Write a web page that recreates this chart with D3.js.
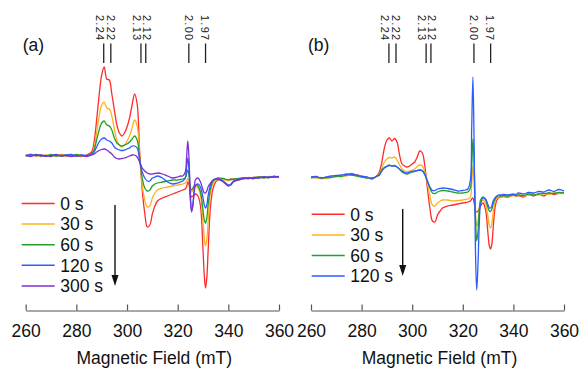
<!DOCTYPE html>
<html>
<head>
<meta charset="utf-8">
<script src="https://cdn.jsdelivr.net/npm/d3@7"></script>
<style>
  html, body { margin: 0; padding: 0; background: #fff; }
  svg { display: block; font-family: "Liberation Sans", Arial, Helvetica, sans-serif; }
</style>
</head>
<body>
<svg id="chart" width="581" height="368"></svg>
<script>
// magnetic field grid (mT), shared by every spectrum
const field = [
  260, 262, 264, 266, 268, 270, 272, 274, 276, 278, 280, 282, 284, 286,
  287, 288, 289, 290, 291, 292, 293, 294, 295, 296, 297, 298, 299, 300, 301, 302, 303, 304, 305, 306, 307, 308, 309, 310, 311, 312,
  314, 316, 318, 320, 321, 322, 323,
  323.5, 324, 324.5, 325, 325.5, 326, 326.5, 327,
  328, 329, 330, 330.5, 331, 331.5, 332,
  333, 334, 335, 336, 338, 340, 341, 342,
  344, 346, 348, 350, 352, 354, 356, 358, 360
];

const xTicks = [260, 280, 300, 320, 340, 360];
const gLabels = ['2.24', '2.22', '2.13', '2.12', '2.00', '1.97'];
const gFields = [290.8, 293.6, 305.5, 307.4, 324.4, 331.0];

const timesA = ['0 s', '30 s', '60 s', '120 s', '300 s'];
const timesB = ['0 s', '30 s', '60 s', '120 s'];
const colors = ['#ff2b2b', '#ffb21e', '#22a02b', '#2c5cff', '#7b30d2'];

// panel (a) intensities, a.u.
const redA = [
  4.5, 5.5, 4, 5, 3.5, 5, 4, 5.5, 4, 5, 4.5, 3.5, 5, 8,
  18, 40, 65, 85, 93, 81, 80, 66, 50, 35, 27, 24, 27, 33, 42, 55, 66, 56, 8, -30, -53, -67, -65, -54, -46, -41,
  -38, -36, -34, -32, -31, -30, -29,
  -27, -22, -25, -34, -37, -36, -35, -34,
  -36, -46, -90, -115, -128, -118, -92,
  -45, -28, -22, -20, -19, -20, -19, -19.5,
  -20, -18.5, -18, -18.5, -17.5, -17, -17.5, -16.5, -17
];
const orangeA = [
  4, 5, 4.5, 3.5, 5, 4, 4.5, 5, 3.5, 4.5, 5, 4, 4.5, 6,
  12, 27, 44, 55, 58, 52, 51, 44, 31, 20, 15, 13, 15, 19, 24, 32, 40, 34, 4, -25, -40, -47, -46, -38, -33, -30,
  -28, -27, -26, -25, -24.5, -24, -23,
  -21, -19, -21, -30, -32, -30, -28, -27,
  -28, -35, -62, -78, -86, -80, -62,
  -32, -23, -20, -19, -19.5, -20.5, -20, -19,
  -19.5, -19, -17.5, -18, -17, -17.5, -16.5, -17, -16.5
];
const greenA = [
  5, 4, 5.5, 4.5, 4, 5.5, 4, 4.5, 5, 4, 5.5, 4.5, 4, 6,
  10, 20, 30, 37, 39, 35, 34, 30, 22, 17, 15, 14, 15, 16, 18, 21, 24, 20, 2, -18, -28, -31, -30, -26, -24, -23,
  -22, -21, -20, -20, -19.5, -19, -18,
  -14, -10, -16, -28, -30, -28, -26, -25,
  -26, -32, -50, -60, -63, -58, -45,
  -28, -21, -19, -18, -18.5, -20, -19.5, -19,
  -18.5, -18, -18.5, -17.5, -17, -18, -17, -16.5, -17
];
const blueA = [
  4, 5.5, 4.5, 5, 4, 4.5, 5.5, 4, 5, 5.5, 4, 5, 4.5, 6,
  8, 13, 18, 21, 22, 20, 19, 17, 13, 11, 10, 9.5, 10, 11, 12, 14, 14, 12, 0, -12, -18, -21, -21, -18, -17, -16,
  -18, -22, -24, -23, -22, -21, -18,
  -8, 2, -10, -40, -51, -45, -33, -26,
  -24, -27, -38, -45, -48, -45, -36,
  -25, -20, -19, -19, -21, -25, -24, -21,
  -19, -18, -18.5, -17.5, -18, -17, -17.5, -16.5, -17
];
const purpleA = [
  4.5, 3.5, 5, 4, 4.5, 3.5, 5, 4, 4.5, 3.5, 4, 4.5, 3.5, 5,
  6, 8, 9.5, 10.5, 11, 10, 8, 6, 3, 1.5, 1, 1.5, 2, 3, 4, 5, 5, 3, -2, -8, -11, -13, -14, -14, -13.5, -13,
  -14, -16, -18, -17, -16, -16, -12,
  2, 19, 0, -35, -52, -45, -30, -20,
  -18, -22, -30, -33, -33, -31, -27,
  -23, -20, -19, -19, -22, -26, -25, -22,
  -20, -18.5, -18, -18.5, -17.5, -17, -17.5, -17, -16.5
];

// panel (b) intensities, a.u.
const redB = [
  -17.5, -17, -18.5, -18, -17, -16.5, -16, -15, -13.5, -15, -16, -17, -19, -16,
  -12, -2, 12, 20, 22, 19, 21.5, 18, 5, -4, -6, -7, -6, -4, -2, 3, 9, 7, -6, -28, -48, -61, -62, -55, -51, -48,
  -46, -45, -44, -43, -42.5, -42, -41,
  -39, -38, -43, -51, -52, -51, -49, -46,
  -43, -50, -75, -86, -89, -84, -68,
  -44, -38, -37, -36.5, -37, -35, -36, -35.5,
  -37, -34.5, -36, -34, -36, -33, -34.5, -33, -32.5
];
const orangeB = [
  -17, -18, -17.5, -18.5, -16.5, -17, -15.5, -16, -14.5, -15.5, -16.5, -17.5, -18.5, -16.5,
  -14, -8, -2, 1, 2.5, 2, 3, 0, -5, -9, -11, -11.5, -11, -10, -9, -6.5, -5, -6, -12, -23, -36, -45, -46, -43, -41, -40,
  -40, -41, -40.5, -40, -39.5, -39, -37,
  -25, -6, -25, -55, -66, -62, -50, -43,
  -40, -44, -58, -66, -68, -64, -52,
  -40, -37, -36, -36, -36.5, -35.5, -36, -35,
  -36, -35, -34, -35, -33.5, -34.5, -33, -33.5, -33
];
const greenB = [
  -18, -17, -18, -17.5, -17.5, -16, -16.5, -15, -15, -16, -17, -18, -18, -16.5,
  -15, -10, -7.5, -6, -5, -6, -5.5, -7, -9.5, -12, -13.5, -14, -13, -12, -11.5, -10.5, -10, -10.5, -14, -21, -28, -33, -33.5, -32, -31, -30.5,
  -31, -32, -33, -33, -32.5, -32, -28,
  -8, 21, -5, -55, -81, -72, -50, -40,
  -37, -40, -48, -51, -51.5, -49, -44,
  -38, -36, -36, -35.5, -36, -35, -35.5, -35,
  -35.5, -34, -35, -34, -33.5, -33, -33.5, -32.5, -33
];
const blueB = [
  -17, -16.5, -18, -17, -16, -15.5, -15, -14, -14.5, -15, -16.5, -17, -18.5, -16,
  -15, -11, -8, -6.5, -5.5, -6, -6, -7, -9, -11, -12.5, -13, -12, -11.5, -11, -10.5, -10, -11, -15, -21, -27, -30.5, -30.5, -29, -28.5, -28,
  -28.5, -29.5, -31, -30.5, -30, -29, -20,
  30, 83, 10, -90, -130, -105, -65, -45,
  -38, -39, -45, -48, -48, -46, -41,
  -37, -35, -35, -34.5, -35, -34, -34.5, -33,
  -34, -32.5, -33, -31.5, -32, -30, -31.5, -29.5, -31
];

// horizontal shift of each rotated g label from its marker line (px)
const gTextShift = [-7.6, -3.6, -8, -3.2, -3.6, -5];

const svg = d3.select('#chart');

const yScale = d3.scaleLinear()
    .domain([-150, 100])
    .range([310, 60]);

function renderPanel(cfg) {
    const xScale = d3.scaleLinear()
        .domain([260, 360])
        .range([cfg.x0, cfg.x1]);

    const root = svg.append('g');

    const line = d3.line()
        .x((d, i) => xScale(field[i]))
        .y(d => yScale(d))
        .curve(d3.curveCatmullRom);

    cfg.series.forEach((values, i) => {
        root.append('path')
            .datum(values)
            .attr('d', line)
            .attr('fill', 'none')
            .attr('stroke', colors[i])
            .attr('stroke-width', 1.3)
            .attr('stroke-linejoin', 'round');
    });

    // g-value markers
    const marks = root.selectAll('.gmark')
        .data(gLabels)
        .enter()
        .append('g')
        .attr('class', 'gmark')
        .attr('transform', (d, i) => `translate(${xScale(gFields[i])}, 0)`);

    marks.append('line')
        .attr('y1', 43.5)
        .attr('y2', 63)
        .attr('stroke', '#222')
        .attr('stroke-width', 1.3);

    marks.append('text')
        .attr('transform', (d, i) => `translate(${gTextShift[i]}, 41.5) rotate(90)`)
        .attr('text-anchor', 'end')
        .attr('font-size', 11)
        .attr('letter-spacing', 1.3)
        .attr('fill', '#222')
        .text(d => d);

    const axis = d3.axisBottom(xScale)
        .tickValues(xTicks)
        .tickSize(-6)
        .tickSizeOuter(0)
        .tickPadding(14);

    const ax = root.append('g')
        .attr('transform', 'translate(0, 310.5)')
        .call(axis);
    ax.select('.domain').attr('stroke', '#555').attr('stroke-width', 1.2);
    ax.selectAll('.tick line').attr('stroke', '#555').attr('stroke-width', 1.2);
    ax.selectAll('.tick text')
        .attr('font-size', 17.5)
        .attr('font-family', '"Liberation Sans", Arial, sans-serif')
        .attr('fill', '#111');

    root.append('text')
        .attr('x', (cfg.x0 + cfg.x1) / 2 + 2)
        .attr('y', 364)
        .attr('text-anchor', 'middle')
        .attr('font-size', 17.5)
        .attr('fill', '#111')
        .text('Magnetic Field (mT)');

    root.append('text')
        .attr('x', cfg.x0 - 3)
        .attr('y', 51)
        .attr('font-size', 17.5)
        .attr('fill', '#111')
        .text(cfg.label);

    // legend
    const legend = root.selectAll('.legend')
        .data(cfg.names)
        .enter()
        .append('g')
        .attr('class', 'legend')
        .attr('transform', (d, i) => `translate(${cfg.legendX}, ${cfg.legendY + i * 20.6})`);

    legend.append('line')
        .attr('x1', 0)
        .attr('x2', 33)
        .attr('stroke', (d, i) => colors[i])
        .attr('stroke-width', 1.5);

    legend.append('text')
        .attr('x', 38.5)
        .attr('dy', '0.36em')
        .attr('font-size', 17.5)
        .attr('fill', '#111')
        .text(d => d);

    // time arrow
    root.append('line')
        .attr('x1', cfg.arrowX)
        .attr('x2', cfg.arrowX)
        .attr('y1', cfg.arrowY0)
        .attr('y2', cfg.arrowY1 - 6)
        .attr('stroke', '#111')
        .attr('stroke-width', 1.4);
    root.append('path')
        .attr('d', `M${cfg.arrowX - 3.5},${cfg.arrowY1 - 11}L${cfg.arrowX + 3.5},${cfg.arrowY1 - 11}L${cfg.arrowX},${cfg.arrowY1}Z`)
        .attr('fill', '#111');
}

renderPanel({
    x0: 25.7, x1: 279, label: '(a)',
    series: [redA, orangeA, greenA, blueA, purpleA],
    names: timesA,
    legendX: 21.7, legendY: 203.5,
    arrowX: 115, arrowY0: 205, arrowY1: 286
});

renderPanel({
    x0: 311, x1: 564, label: '(b)',
    series: [redB, orangeB, greenB, blueB],
    names: timesB,
    legendX: 311.7, legendY: 214.3,
    arrowX: 402.7, arrowY0: 209, arrowY1: 276
});
</script>
</body>
</html>
